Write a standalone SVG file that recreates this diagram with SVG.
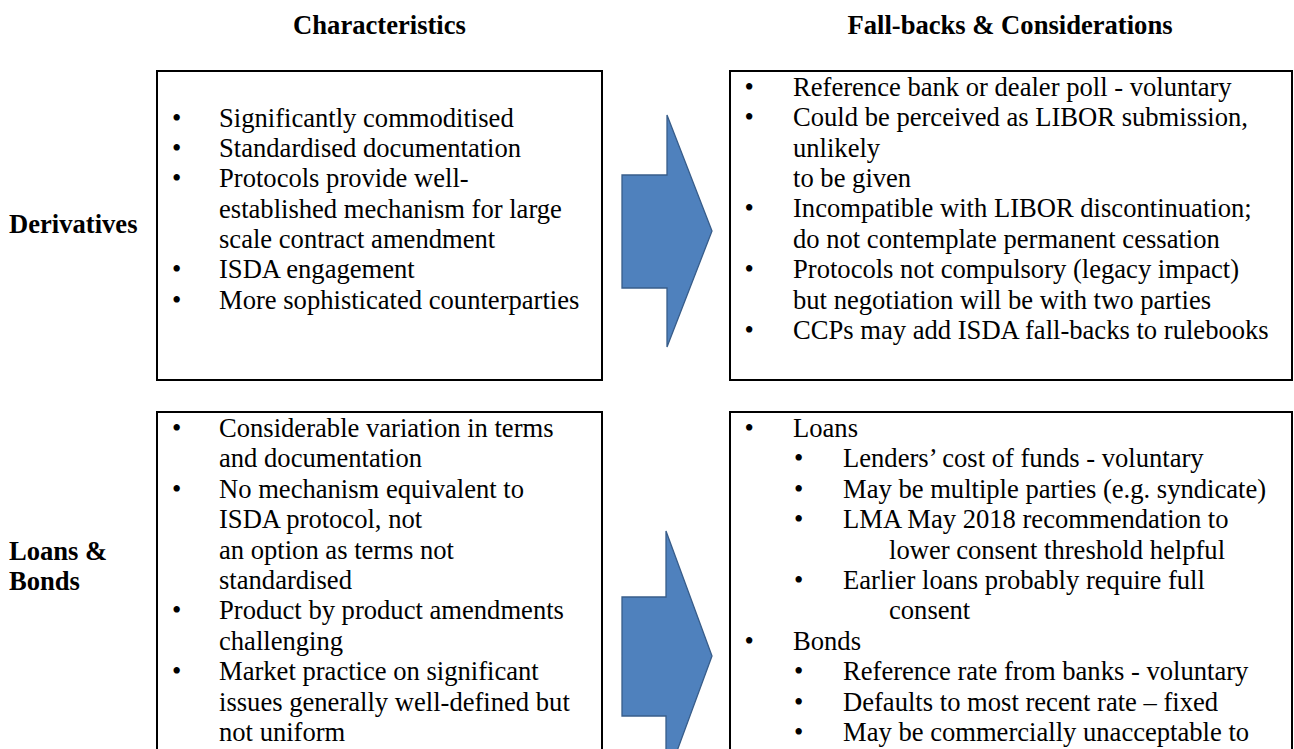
<svg xmlns="http://www.w3.org/2000/svg" width="1294" height="749" viewBox="0 0 1294 749">
<style>
  text { font-family: "Liberation Serif", "Times New Roman", serif; font-size: 26.6px; fill: #000; }
  .h { font-weight: bold; }
  .c { text-anchor: middle; }
  .box { fill: #fff; stroke: #000; stroke-width: 2; }
  .arrow { fill: #4F81BD; stroke: #385D8A; stroke-width: 1.3; stroke-linejoin: miter; }
</style>
<rect x="0" y="0" width="1294" height="749" fill="#fff"/>

<g id="headers">
  <text class="h c" x="379.5" y="34">Characteristics</text>
  <text class="h c" x="1010" y="34">Fall-backs &amp; Considerations</text>
</g>

<g id="row-labels">
  <text class="h" x="9" y="233">Derivatives</text>
  <text class="h" x="9" y="560">Loans &amp;</text>
  <text class="h" x="9" y="590">Bonds</text>
</g>

<g id="derivatives-characteristics">
  <rect class="box" x="157" y="71" width="445" height="309"/>
  <text x="172" y="126.5">•</text><text x="219" y="126.5">Significantly commoditised</text>
  <text x="172" y="156.9">•</text><text x="219" y="156.9">Standardised documentation</text>
  <text x="172" y="187.2">•</text><text x="219" y="187.2">Protocols provide well-</text>
  <text x="219" y="217.6">established mechanism for large</text>
  <text x="219" y="247.9">scale contract amendment</text>
  <text x="172" y="278.3">•</text><text x="219" y="278.3">ISDA engagement</text>
  <text x="172" y="308.6">•</text><text x="219" y="308.6">More sophisticated counterparties</text>
</g>

<g id="derivatives-fallbacks">
  <rect class="box" x="730" y="71" width="562" height="309"/>
  <text x="744.5" y="96">•</text><text x="793" y="96">Reference bank or dealer poll - voluntary</text>
  <text x="744.5" y="126.4">•</text><text x="793" y="126.4">Could be perceived as LIBOR submission,</text>
  <text x="793" y="156.7">unlikely</text>
  <text x="793" y="187">to be given</text>
  <text x="744.5" y="217.4">•</text><text x="793" y="217.4">Incompatible with LIBOR discontinuation;</text>
  <text x="793" y="247.8">do not contemplate permanent cessation</text>
  <text x="744.5" y="278.1">•</text><text x="793" y="278.1">Protocols not compulsory (legacy impact)</text>
  <text x="793" y="308.5">but negotiation will be with two parties</text>
  <text x="744.5" y="338.8">•</text><text x="793" y="338.8">CCPs may add ISDA fall-backs to rulebooks</text>
</g>

<g id="loans-bonds-characteristics">
  <rect class="box" x="157" y="412" width="445" height="360"/>
  <text x="172" y="437">•</text><text x="219" y="437">Considerable variation in terms</text>
  <text x="219" y="467.4">and documentation</text>
  <text x="172" y="497.8">•</text><text x="219" y="497.8">No mechanism equivalent to</text>
  <text x="219" y="528.2">ISDA protocol, not</text>
  <text x="219" y="558.6">an option as terms not</text>
  <text x="219" y="589">standardised</text>
  <text x="172" y="619.4">•</text><text x="219" y="619.4">Product by product amendments</text>
  <text x="219" y="649.8">challenging</text>
  <text x="172" y="680.2">•</text><text x="219" y="680.2">Market practice on significant</text>
  <text x="219" y="710.6">issues generally well-defined but</text>
  <text x="219" y="741">not uniform</text>
</g>

<g id="loans-bonds-fallbacks">
  <rect class="box" x="730" y="412" width="562" height="360"/>
  <text x="744.5" y="437">•</text><text x="793" y="437">Loans</text>
  <text x="794" y="467.4">•</text><text x="843" y="467.4">Lenders’ cost of funds - voluntary</text>
  <text x="794" y="497.8">•</text><text x="843" y="497.8">May be multiple parties (e.g. syndicate)</text>
  <text x="794" y="528.2">•</text><text x="843" y="528.2">LMA May 2018 recommendation to</text>
  <text x="889" y="558.6">lower consent threshold helpful</text>
  <text x="794" y="589">•</text><text x="843" y="589">Earlier loans probably require full</text>
  <text x="889" y="619.4">consent</text>
  <text x="744.5" y="649.8">•</text><text x="793" y="649.8">Bonds</text>
  <text x="794" y="680.2">•</text><text x="843" y="680.2">Reference rate from banks - voluntary</text>
  <text x="794" y="710.6">•</text><text x="843" y="710.6">Defaults to most recent rate – fixed</text>
  <text x="794" y="741">•</text><text x="843" y="741">May be commercially unacceptable to</text>
</g>

<g id="connectors">
  <polygon id="arrow-derivatives" class="arrow" points="622,175 667,175 667,115 712,231 667,347 667,288 622,288"/>
  <polygon id="arrow-loans-bonds" class="arrow" points="622,597 666,597 666,531 712,656 666,781 666,716 622,716"/>
</g>
</svg>
